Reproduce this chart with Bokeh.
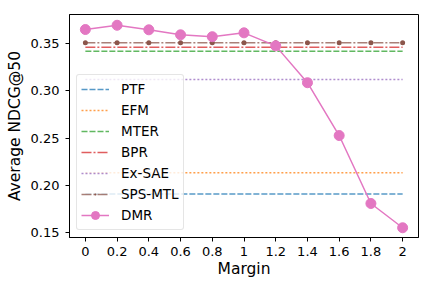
from bokeh.plotting import figure
from bokeh.models import FixedTicker, Legend, LegendItem, Range1d
from bokeh.embed import file_html
from bokeh.resources import INLINE

margins = [0, 0.2, 0.4, 0.6, 0.8, 1.0, 1.2, 1.4, 1.6, 1.8, 2.0]
tick_labels = ["0", "0.2", "0.4", "0.6", "0.8", "1", "1.2", "1.4", "1.6", "1.8", "2"]

ptf = 0.1908
efm = 0.2133
mter = 0.3419
bpr = 0.3460
exsae = 0.3120
spsmtl = 0.3507
dmr = [0.3648, 0.3693, 0.3645, 0.3592, 0.3572, 0.3613, 0.3475, 0.3085, 0.2526, 0.1807, 0.1550]

FONT = "DejaVu Sans"

p = figure(width=432, height=288, output_backend="svg", toolbar_location=None,
           x_range=Range1d(-0.1, 2.1), y_range=Range1d(0.1447, 0.3807),
           min_border_left=69, min_border_right=14, min_border_top=14, min_border_bottom=51)
p.background_fill_color = "white"
p.border_fill_color = "white"
p.outline_line_color = "black"
p.outline_line_alpha = 1
p.outline_line_width = 1
p.xgrid.visible = False
p.ygrid.visible = False

n = len(margins)
alpha = 0.75
r_ptf = p.line(margins, [ptf] * n, line_color="#1f77b4", line_width=1.5, line_dash="6 2", line_alpha=alpha)
r_efm = p.line(margins, [efm] * n, line_color="#ff7f0e", line_width=1.5, line_dash="2 2", line_alpha=alpha)
r_mter = p.line(margins, [mter] * n, line_color="#2ca02c", line_width=1.5, line_dash="6 2", line_alpha=alpha)
r_bpr = p.line(margins, [bpr] * n, line_color="#d62728", line_width=1.5, line_dash="10 2 2 2", line_alpha=alpha)
r_exsae = p.line(margins, [exsae] * n, line_color="#9467bd", line_width=1.5, line_dash="2 2", line_alpha=alpha)
r_sps = p.line(margins, [spsmtl] * n, line_color="#8c564b", line_width=1.5, line_dash="10 2 2 2", line_alpha=alpha)
r_sps_m = p.scatter(margins, [spsmtl] * n, marker="dot", size=20, fill_color="#8c564b", line_color="#8c564b")
r_dmr = p.line(margins, dmr, line_color="#e377c2", line_width=1.5)
r_dmr_m = p.scatter(margins, dmr, size=10, fill_color="#e377c2", line_color="#e377c2")

legend = Legend(items=[
    LegendItem(label="PTF", renderers=[r_ptf]),
    LegendItem(label="EFM", renderers=[r_efm]),
    LegendItem(label="MTER", renderers=[r_mter]),
    LegendItem(label="BPR", renderers=[r_bpr]),
    LegendItem(label="Ex-SAE", renderers=[r_exsae]),
    LegendItem(label="SPS-MTL", renderers=[r_sps, r_sps_m]),
    LegendItem(label="DMR", renderers=[r_dmr, r_dmr_m]),
], location=(7, 7))
legend.label_text_font = FONT
legend.label_text_font_size = "13.5px"
legend.label_text_color = "black"
legend.glyph_width = 28
legend.glyph_height = 20
legend.label_height = 20
legend.spacing = 1
legend.padding = 4
legend.margin = 0
legend.label_standoff = 12
legend.border_line_color = "#cccccc"
legend.border_line_width = 1
legend.background_fill_alpha = 0.8
if "border_radius" in legend.properties():
    legend.border_radius = 3
p.add_layout(legend, "center")

p.xaxis.ticker = FixedTicker(ticks=margins)
p.xaxis.major_label_overrides = {m: t for m, t in zip(margins, tick_labels)}
p.yaxis.ticker = FixedTicker(ticks=[0.15, 0.20, 0.25, 0.30, 0.35])
p.yaxis.major_label_overrides = {0.15: "0.15", 0.20: "0.20", 0.25: "0.25", 0.30: "0.30", 0.35: "0.35"}

for ax in (p.xaxis, p.yaxis):
    ax.axis_line_color = "black"
    ax.major_tick_line_color = "black"
    ax.major_tick_out = 4
    ax.major_tick_in = 0
    ax.minor_tick_line_color = None
    ax.major_label_text_font = FONT
    ax.major_label_text_font_size = "13px"
    ax.major_label_text_color = "black"
    ax.major_label_text_line_height = 1.0
    ax.axis_label_text_font = FONT
    ax.axis_label_text_font_size = "15.5px"
    ax.axis_label_text_font_style = "normal"
    ax.axis_label_text_color = "black"
    ax.axis_label_text_line_height = 1.0

p.xaxis.major_label_standoff = 5
p.yaxis.major_label_standoff = 6
p.xaxis.axis_label = "Margin"
p.yaxis.axis_label = "Average NDCG@50"
p.xaxis.axis_label_standoff = 1
p.yaxis.axis_label_standoff = 4

open("out.html", "w").write(file_html(p, INLINE))
